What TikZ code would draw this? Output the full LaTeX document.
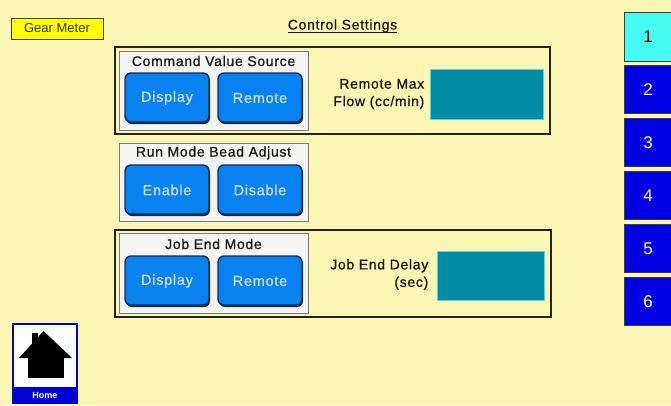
\documentclass[tikz,border=0pt]{standalone}
\usepackage{fontspec}
\setmainfont{Liberation Sans}
\newfontfamily\trk[LetterSpace=5,FakeBold=0.8]{Liberation Sans}
\definecolor{bg}{RGB}{250,246,180}
\definecolor{gearyellow}{RGB}{255,255,0}
\definecolor{btnblue}{RGB}{8,130,240}
\definecolor{btnedge}{RGB}{15,45,80}
\definecolor{btntext}{RGB}{205,222,238}
\definecolor{panelfill}{RGB}{244,244,242}
\definecolor{panelborder}{RGB}{120,120,120}
\definecolor{outerline}{RGB}{35,35,30}
\definecolor{teal}{RGB}{0,140,165}
\definecolor{tealedge}{RGB}{90,210,225}
\definecolor{tabcyan}{RGB}{70,252,240}
\definecolor{tabblue}{RGB}{0,0,225}
\definecolor{tabedge}{RGB}{60,60,50}
\definecolor{homeblue}{RGB}{0,0,210}
\definecolor{geartext}{RGB}{50,50,30}
\definecolor{labeltext}{RGB}{25,25,25}
\tikzset{
  x=1pt, y=-1pt,
  outerbox/.style={draw=outerline, line width=1.6pt},
  panel/.style={draw=panelborder, fill=panelfill, line width=0.8pt},
  btn/.style={draw=btnedge, fill=btnblue, line width=1.4pt, rounded corners=6pt},
  btnshadow/.style={fill=btnedge, rounded corners=6pt},
  btnlabel/.style={text=btntext, font=\trk\fontsize{14.5}{16}\selectfont, inner sep=0pt},
  ptitle/.style={text=labeltext, font=\trk\fontsize{14}{15}\selectfont, inner sep=0pt},
  fieldlabel/.style={text=labeltext, font=\trk\fontsize{14}{17.5}\selectfont, align=right, anchor=east, inner sep=0pt},
  tealbox/.style={draw=tealedge, fill=teal, line width=0.6pt},
  tabbox/.style={draw=tabedge, line width=0.8pt},
  tablabel/.style={font=\fontsize{17}{19}\selectfont, inner sep=0pt},
}
\begin{document}
\begin{tikzpicture}
\useasboundingbox[fill=bg] (0,0) rectangle (671,405);

% Gear Meter tag
\node[draw=tabedge, fill=gearyellow, line width=0.8pt, minimum width=92pt, minimum height=21pt, inner sep=0pt,
      text=geartext, font=\fontsize{13}{14}\selectfont] (gear) at (57,28.5) {Gear Meter};

% title
\node[inner sep=0pt, text=labeltext, font=\trk\fontsize{14}{14}\selectfont, anchor=base] (title) at (342.5,29.5) {Control Settings};
\draw[line width=1.2pt, labeltext] (288,32.5) -- (397,32.5);

% ---------- Section 1 ----------
\draw[outerbox] (115,47) rectangle (550,134);
\draw[panel] (119,51) rectangle (308,130);
\node[ptitle] (t1) at (213.5,61) {Command Value Source};
\fill[btnshadow] (126,75) rectangle (210,124);
\draw[btn] (125,73) rectangle (209,122);
\node[btnlabel] (b1a) at (167,98) {Display};
\fill[btnshadow] (219,75) rectangle (303,124);
\draw[btn] (218,73) rectangle (302,122);
\node[btnlabel] (b1b) at (260,98) {Remote};
\node[fieldlabel] (l1) at (424.5,94) {Remote Max\\Flow (cc/min)};
\draw[tealbox] (430,69) rectangle (543,119);

% ---------- Section 2 ----------
\draw[panel] (119,143) rectangle (308,221);
\node[ptitle] (t2) at (213.5,153) {Run Mode Bead Adjust};
\fill[btnshadow] (126,167) rectangle (210,216);
\draw[btn] (125,165) rectangle (209,214);
\node[btnlabel] (b2a) at (167,190) {Enable};
\fill[btnshadow] (219,167) rectangle (303,216);
\draw[btn] (218,165) rectangle (302,214);
\node[btnlabel] (b2b) at (260,190) {Disable};

% ---------- Section 3 ----------
\draw[outerbox] (115,230) rectangle (551,317);
\draw[panel] (119,233) rectangle (308,313);
\node[ptitle] (t3) at (213.5,244) {Job End Mode};
\fill[btnshadow] (126,258) rectangle (210,307);
\draw[btn] (125,256) rectangle (209,305);
\node[btnlabel] (b3a) at (167,281) {Display};
\fill[btnshadow] (219,258) rectangle (303,307);
\draw[btn] (218,256) rectangle (302,305);
\node[btnlabel] (b3b) at (260,281) {Remote};
\node[fieldlabel] (l3) at (428.5,274.5) {Job End Delay\\(sec)};
\draw[tealbox] (437,251) rectangle (544,300);

% ---------- Tabs ----------
\draw[tabbox, fill=tabcyan] (624.5,12) rectangle (671,61);
\node[tablabel, text=black] (tab1) at (648,37) {1};
\foreach \i/\yy in {2/65,3/118,4/171,5/224,6/277}{
  \draw[tabbox, fill=tabblue] (624.5,\yy) rectangle (671,\yy+48);
  \node[tablabel, text=white] (tab\i) at (648,\yy+24.5) {\i};
}

% ---------- Home ----------
\draw[draw=homeblue, fill=white, line width=2.4pt] (13,324) rectangle (77,403);
\fill[homeblue] (13,387) rectangle (77,403);
\node[text=white, font=\bfseries\fontsize{9}{10}\selectfont, inner sep=0pt] (home) at (45,395) {Home};
\fill[black] (19,358) -- (43.5,331) -- (72,358) -- cycle;
\fill[black] (28,357) rectangle (64,378);
\fill[black] (32,333) rectangle (38,346);
\end{tikzpicture}
\end{document}
